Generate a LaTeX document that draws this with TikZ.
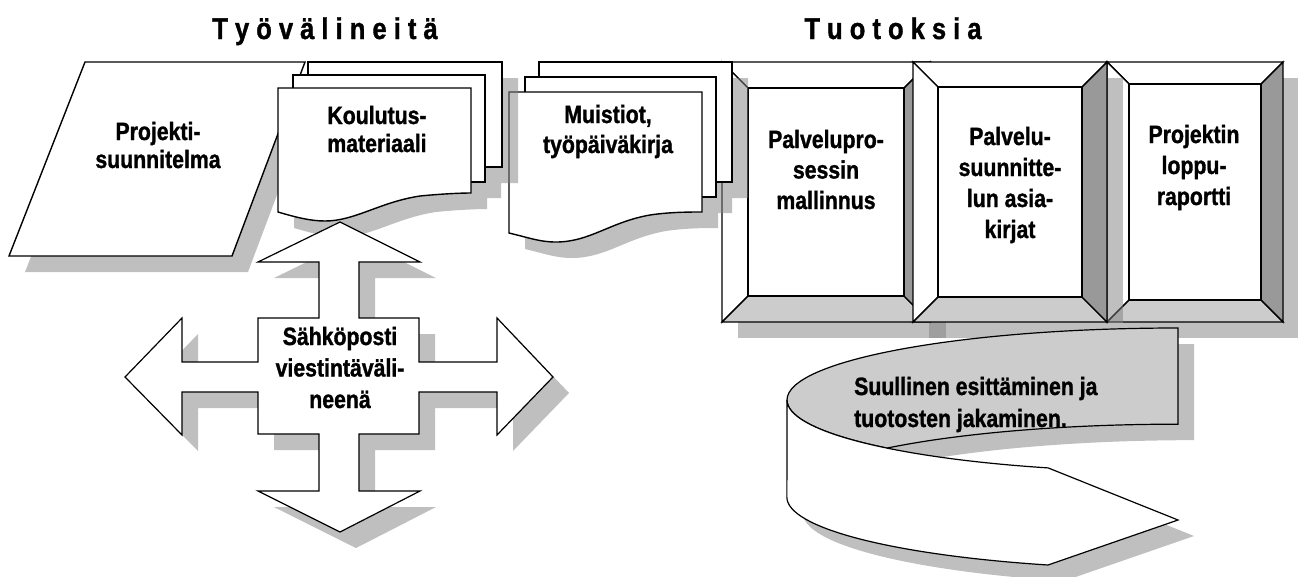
\documentclass[tikz,border=0pt]{standalone}
\usepackage{fontspec}
\setmainfont{Liberation Sans}[FakeStretch=0.85, BoldFeatures={FakeBold=1.2}]
\definecolor{facebottom}{gray}{0.8}
\definecolor{faceside}{gray}{0.6}
\definecolor{ribbontop}{gray}{0.8}

% bevelled box: left, top, right, bottom, bevel width
\newcommand\bevelbox[5]{%
  \fill[shade] ({#1+16},{#2+16}) -- ({#3+16},{#2+16}) -- ({#3+16},{#4+16}) -- ({#1+16},{#4+16}) -- cycle;
  \filldraw[outline, fill=white] (#1,#2) -- (#3,#2) -- ({#3-#5},{#2+#5}) -- ({#1+#5},{#2+#5}) -- cycle;
  \filldraw[outline, fill=white] (#1,#2) -- ({#1+#5},{#2+#5}) -- ({#1+#5},{#4-#5}) -- (#1,#4) -- cycle;
  \filldraw[outline, fill=facebottom] (#1,#4) -- ({#1+#5},{#4-#5}) -- ({#3-#5},{#4-#5}) -- (#3,#4) -- cycle;
  \filldraw[outline, fill=faceside] (#3,#2) -- (#3,#4) -- ({#3-#5},{#4-#5}) -- ({#3-#5},{#2+#5}) -- cycle;
  \filldraw[outline, fill=white] ({#1+#5},{#2+#5}) -- ({#3-#5},{#2+#5}) -- ({#3-#5},{#4-#5}) -- ({#1+#5},{#4-#5}) -- cycle;
}

\begin{document}
\begin{tikzpicture}[x=1pt, y=-1pt,
  outline/.style={draw=black, line width=1.4pt, line join=miter},
  sheet/.style={outline, fill=white},
  shade/.style={fill=gray, fill opacity=0.5, draw=none},
  label/.style={font=\bfseries\fontsize{25}{#1}\selectfont, align=center, inner sep=0pt, anchor=base},
  label/.default=29,
  heading/.style={font=\bfseries\fontsize{30}{34}\selectfont, inner sep=0pt, anchor=base}]

\useasboundingbox (0,0) rectangle (1298,576);
\fill[white] (0,0) rectangle (1298,576);

% project plan (parallelogram)
\fill[shade] (101,78) -- (321,78) -- (248,272) -- (25,272) -- cycle;
\filldraw[sheet] (85,62) -- (305,62) -- (232,256) -- (9,256) -- cycle;

% output boxes
\bevelbox{1107}{62}{1283}{322}{22}
\bevelbox{722}{62}{930}{322}{26}
\bevelbox{913}{62}{1107}{322}{25}

% notes and diary (stack of pages)
\begin{scope}[shift={(16,16)}]
  \fill[shade] (539,62) -- (732,62) -- (732,182) -- (539,182) -- cycle
               (525,77) -- (716,77) -- (716,197) -- (525,197) -- cycle
               (509,92) -- (702,92) -- (702,212) .. controls (690,212) and (670,212) .. (650,215)
               .. controls (610,222) and (590,242) .. (556,242) .. controls (540,242) and (530,238) .. (509,233) -- cycle;
\end{scope}
\filldraw[sheet] (539,62) -- (732,62) -- (732,182) -- (539,182) -- cycle;
\filldraw[sheet] (525,77) -- (716,77) -- (716,197) -- (525,197) -- cycle;
\filldraw[sheet] (509,92) -- (702,92) -- (702,212) .. controls (690,212) and (670,212) .. (650,215)
  .. controls (610,222) and (590,242) .. (556,242) .. controls (540,242) and (530,238) .. (509,233) -- cycle;

% training material (stack of pages)
\begin{scope}[shift={(16,16)}]
  \fill[shade] (308,62) -- (502,62) -- (502,167) -- (308,167) -- cycle
               (293,75) -- (485,75) -- (485,182) -- (293,182) -- cycle
               (278,88) -- (471,88) -- (471,193) .. controls (460,193) and (440,194) .. (420,196)
               .. controls (380,202) and (355,221) .. (325,221) .. controls (310,221) and (295,217) .. (278,212) -- cycle;
\end{scope}
\filldraw[sheet] (308,62) -- (502,62) -- (502,167) -- (308,167) -- cycle;
\filldraw[sheet] (293,75) -- (485,75) -- (485,182) -- (293,182) -- cycle;
\filldraw[sheet] (278,88) -- (471,88) -- (471,193) .. controls (460,193) and (440,194) .. (420,196)
  .. controls (380,202) and (355,221) .. (325,221) .. controls (310,221) and (295,217) .. (278,212) -- cycle;

% four-way arrow
\def\crossarrow{(340,222) -- (420,262) -- (359,262) -- (359,318) -- (419,318) -- (419,362) -- (497,362)
  -- (497,318) -- (553,377) -- (497,435) -- (497,392) -- (419,392) -- (419,434) -- (359,434)
  -- (359,491) -- (420,491) -- (340,532) -- (258,491) -- (319,491) -- (319,434) -- (258,434)
  -- (258,392) -- (182,392) -- (182,435) -- (125,377) -- (182,318) -- (182,362) -- (258,362)
  -- (258,318) -- (319,318) -- (319,262) -- (258,262) -- cycle}
\begin{scope}[shift={(16,16)}]
  \fill[shade] \crossarrow;
\end{scope}
\filldraw[sheet, line width=1.2pt] \crossarrow;

% curved ribbon arrow
\def\ribbontopface{(1178,328) arc[start angle=270, end angle=138.1, x radius=391, y radius=72]
  arc[start angle=221.9, end angle=270, x radius=391, y radius=72] -- cycle}
\def\ribbonfrontface{(787,400) arc[start angle=180, end angle=109.4, x radius=391, y radius=72]
  -- (1178,520) -- (1048,565) arc[start angle=109.4, end angle=180, x radius=391, y radius=72] -- cycle}
\begin{scope}[shift={(16,16)}]
  \fill[shade] \ribbontopface \ribbonfrontface;
\end{scope}
\filldraw[outline, fill=ribbontop, line width=1.2pt] \ribbontopface;
\filldraw[outline, fill=white, line width=1.2pt] \ribbonfrontface;

% texts (multi-line labels are placed at the baseline of their last line)
\node[heading] (tools) at (325,39) {T y ö v ä l i n e i t ä};
\node[heading] (outputs) at (893,39) {T u o t o k s i a};
\node[label=28] (plan) at (158,168) {Projekti-\\suunnitelma};
\node[label=28] (training) at (377,152) {Koulutus-\\materiaali};
\node[label=30] (notes) at (608,153) {Muistiot,\\työpäiväkirja};
\node[label=30.5] (process) at (826,209) {Palvelupro-\\sessin\\mallinnus};
\node[label=31] (docs) at (1010,238) {Palvelu-\\suunnitte-\\lun asia-\\kirjat};
\node[label=31] (report) at (1194,205) {Projektin\\loppu-\\raportti};
\node[label=31.5] (mail) at (340,408) {Sähköposti\\viestintäväli-\\neenä};
\node[label=32, align=left, anchor=base west] (talk) at (854,427) {Suullinen esittäminen ja\\tuotosten jakaminen.};
\end{tikzpicture}
\end{document}
